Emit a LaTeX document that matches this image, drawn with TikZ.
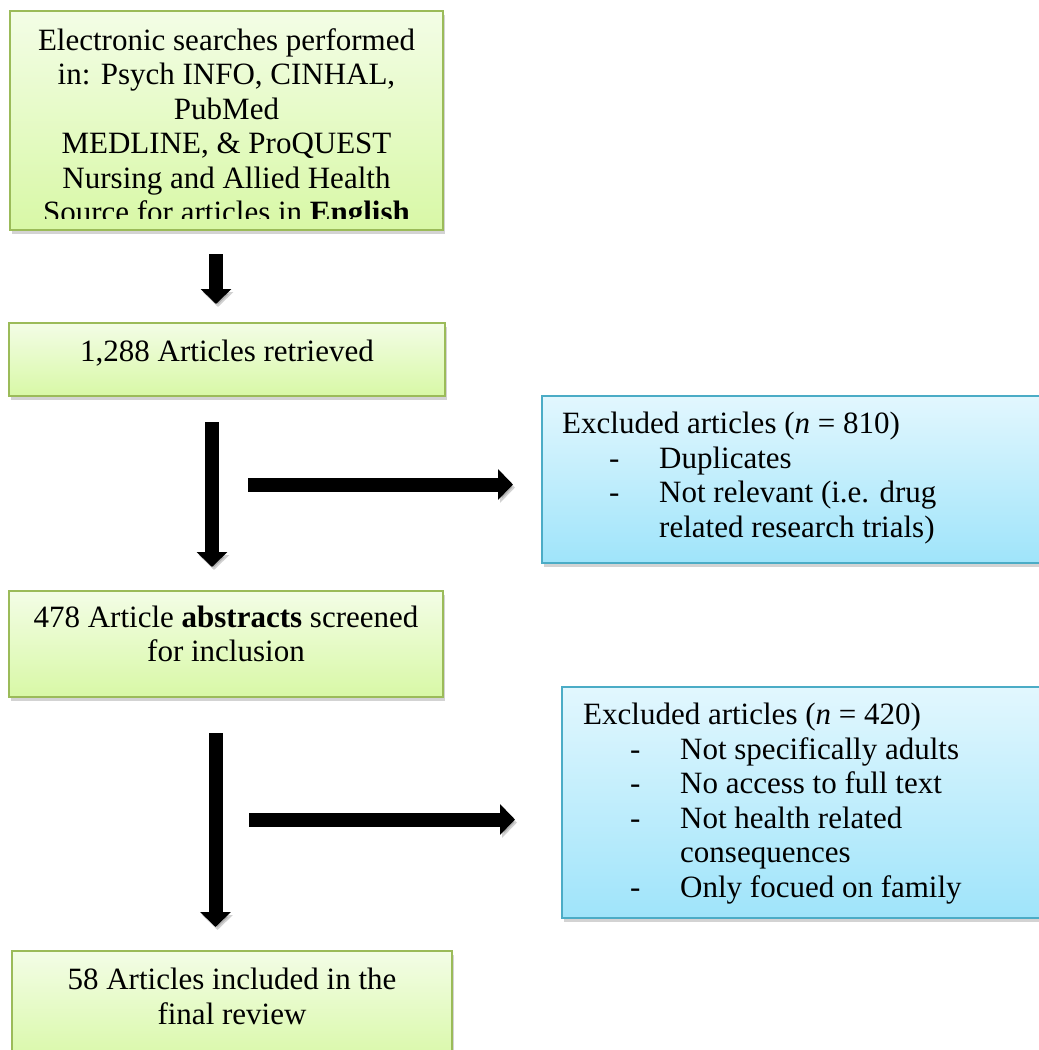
\documentclass[tikz,border=0pt]{standalone}
\usepackage{fontspec}
\setmainfont{Liberation Serif}
\usetikzlibrary{arrows.meta,shadows}

\definecolor{greentop}{HTML}{F3FDE6}
\definecolor{greenbot}{HTML}{D8F8A6}
\definecolor{greenline}{HTML}{9BBB59}
\definecolor{bluetop}{HTML}{E2F7FE}
\definecolor{bluebot}{HTML}{9FE4FA}
\definecolor{blueline}{HTML}{4BACC6}

\newcommand{\exitem}[1]{\makebox[97pt][l]{\hspace*{47pt}-}#1}
\newcommand{\excont}[1]{\hspace*{97pt}#1}

\tikzset{
    greenbox/.style={draw=greenline, line width=1.5pt, top color=greentop, bottom color=greenbot,
        drop shadow={opacity=0.35, shadow xshift=2pt, shadow yshift=-4pt}},
    bluebox/.style={draw=blueline, line width=1.5pt, top color=bluetop, bottom color=bluebot,
        drop shadow={opacity=0.35, shadow xshift=2pt, shadow yshift=-4pt}},
    boxtext/.style={font=\fontsize{31}{34.5}\selectfont, inner sep=0pt, align=center},
    listtext/.style={font=\fontsize{31}{34.5}\selectfont, inner sep=0pt, align=left},
    blockarrow/.style={line width=14pt, -{Triangle[width=30pt,length=15pt]},
        preaction={draw=black!60, opacity=0.3, transform canvas={shift={(2pt,-3pt)}}}}
}

\begin{document}
\begin{tikzpicture}[x=1pt,y=-1pt]
    \useasboundingbox (0,0) rectangle (1039,1050);
    \clip (0,0) rectangle (1039,1050);

    % boxes
    \begin{scope}[every node/.style={greenbox}]
        \node[minimum width=433pt, minimum height=219pt] (search) at (226.5,120.5) {};
        \node[minimum width=436pt, minimum height=73pt] (retrieved) at (227,359.5) {};
        \node[minimum width=434pt, minimum height=106pt] (screened) at (226,644) {};
        \node[minimum width=440pt, minimum height=114pt] (included) at (232,1008) {};
    \end{scope}
    \begin{scope}[every node/.style={bluebox}]
        \node[minimum width=518pt, minimum height=167pt] (excl1) at (801,479.5) {};
        \node[minimum width=498pt, minimum height=231pt] (excl2) at (811,802.5) {};
    \end{scope}

    % texts
    \begin{scope}
        \clip (search.north west) rectangle ([yshift=12pt]search.south east);
        \node[boxtext, anchor=north] (searchtext) at (226.5,28) {Electronic searches performed\\
            in: Psych INFO, CINHAL,\\ PubMed\\ MEDLINE, \& ProQUEST\\
            Nursing and Allied Health\\ Source for articles in \textbf{English}};
    \end{scope}
    \node[boxtext, anchor=base] (retrievedtext) at (227,361) {1,288 Articles retrieved};
    \node[boxtext, anchor=north] (screenedtext) at (226,605.5) {478 Article \textbf{abstracts} screened\\ for inclusion};
    \node[boxtext, anchor=north] (includedtext) at (232,968) {58 Articles included in the\\ final review};
    \node[listtext, anchor=north west] (excl1text) at (562,412) {Excluded articles (\textit{n} = 810)\\
        \exitem{Duplicates}\\ \exitem{Not relevant (i.e. drug}\\ \excont{related research trials)}};
    \node[listtext, anchor=north west] (excl2text) at (583,703) {Excluded articles (\textit{n} = 420)\\
        \exitem{Not specifically adults}\\ \exitem{No access to full text}\\
        \exitem{Not health related}\\ \excont{consequences}\\ \exitem{Only focued on family}};

    % arrows
    \coordinate (a1) at (216,254);   \coordinate (a1e) at (216,304);
    \coordinate (a2) at (212,422);   \coordinate (a2e) at (212,567);
    \coordinate (a3) at (215.5,733); \coordinate (a3e) at (215.5,927);
    \coordinate (h1) at (248,484.5); \coordinate (h1e) at (513,484.5);
    \coordinate (h2) at (249,819.5); \coordinate (h2e) at (515,819.5);
    \begin{scope}[every edge/.style={draw, blockarrow}]
        \path (a1) edge (a1e);
        \path (a2) edge (a2e);
        \path (h1) edge (h1e);
        \path (a3) edge (a3e);
        \path (h2) edge (h2e);
    \end{scope}
\end{tikzpicture}
\end{document}
